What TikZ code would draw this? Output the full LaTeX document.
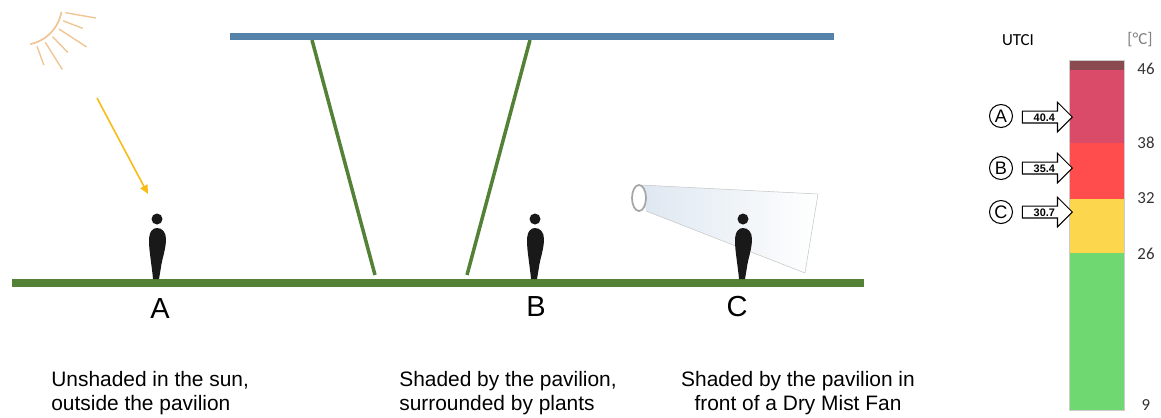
\documentclass[tikz,border=0pt]{standalone}
\usepackage{fontspec}
\setmainfont{Liberation Sans}
\newfontfamily\calibri{Carlito}
\usetikzlibrary{arrows.meta,shapes.arrows,calc}

\definecolor{roofblue}{RGB}{84,130,168}
\definecolor{plantgreen}{RGB}{83,129,53}
\definecolor{sunray}{RGB}{240,198,150}
\definecolor{sunbeam}{RGB}{247,188,22}
\definecolor{mistblue}{RGB}{222,231,241}
\definecolor{barbrown}{RGB}{139,74,80}
\definecolor{barpink}{RGB}{217,75,104}
\definecolor{barred}{RGB}{255,77,77}
\definecolor{baryellow}{RGB}{252,214,76}
\definecolor{bargreen}{RGB}{112,216,112}

\tikzset{
    person/.pic={
        \fill[black!90] (-3,0) .. controls (-4,-12) and (-7,-28) .. (-7,-38)
            .. controls (-7,-48) and (-3,-51) .. (1,-51)
            .. controls (6,-51) and (10,-47) .. (10,-40)
            .. controls (10,-30) and (6,-20) .. (5,-12)
            -- (3,0) -- cycle;
        \fill[black!90] (1,-60) circle (5.5);
    },
    spot/.style={font=\fontsize{16.5}{18}\selectfont},
    caption/.style={font=\fontsize{11.9}{13.6}\selectfont, inner sep=0pt},
    scale label/.style={font=\calibri\fontsize{9.6}{11}\selectfont, text=black!80},
    spot mark/.style={circle, draw, line width=0.6pt, minimum size=13.1pt,
        inner sep=0pt, font=\fontsize{10.3}{12}\selectfont},
    valarrow/.style={single arrow, draw, fill=white, line width=0.6pt,
        minimum height=28.4pt, single arrow head extend=5pt,
        text height=4.6pt, text depth=0pt, inner ysep=0.8pt, inner xsep=1pt,
        font=\bfseries\fontsize{6.2}{7}\selectfont}
}

\begin{document}
\begin{tikzpicture}[x=0.02cm,y=-0.02cm]
    \useasboundingbox (0,0) rectangle (1161,417);

    \coordinate (R1) at (230,36.5);
    \coordinate (R2) at (834,36.5);
    \coordinate (G1) at (12,283);
    \coordinate (G2) at (864,283);

    \coordinate (P1) at (312,40);
    \coordinate (P2) at (375,275);
    \coordinate (P3) at (530,40);
    \coordinate (P4) at (467,275);

    % pavilion: plants and roof
    \draw[plantgreen, line width=2pt] (P1) -- (P2);
    \draw[plantgreen, line width=2pt] (P3) -- (P4);
    \draw[roofblue, line width=4pt] (R1) -- (R2);
    \draw[plantgreen, line width=4pt] (G1) -- (G2);

    % sun
    \coordinate (S) at (22,5);
    \draw[sunray, line width=1pt] plot[domain=10:78, samples=25]
        ({22+40*cos(\x)},{5+40*sin(\x)});
    \foreach \a/\r in {10/75, 21/65, 33/77, 46/66, 58/76, 70/64}
        \draw[sunray, line width=0.8pt] ($(S)+(\a:44)$) -- ($(S)+(\a:\r)$);

    \coordinate (B1) at (97,98);
    \coordinate (B2) at (148,194);
    \draw[sunbeam, line width=0.9pt, -{Triangle[length=5pt,width=4.5pt]}] (B1) -- (B2);

    % dry mist fan
    \coordinate (F1) at (641,185);
    \coordinate (F2) at (818,194);
    \coordinate (F3) at (805,273);
    \coordinate (F4) at (646,211);
    \shade[left color=mistblue, right color=white] (F1) -- (F2) -- (F3) -- (F4) -- cycle;
    \draw[gray!45, line width=0.3pt] (F1) -- (F2) -- (F3) -- (F4);
    \draw[gray!70, line width=1pt, fill=white] (639,198) ellipse [x radius=7, y radius=13];

    % people
    \pic at (156,279) {person};
    \pic at (534,279) {person};
    \pic at (742,279) {person};

    \node[spot] (labA) at (160,309) {A};
    \node[spot] (labB) at (536,307) {B};
    \node[spot] (labC) at (737,307) {C};

    \node[caption, anchor=north west, align=left] (capA) at (51,371)
        {Unshaded in the sun,\\outside the pavilion};
    \node[caption, anchor=north west, align=left] (capB) at (399,371)
        {Shaded by the pavilion,\\surrounded by plants};
    \node[caption, anchor=north, align=center] (capC) at (798,371)
        {Shaded by the pavilion in\\front of a Dry Mist Fan};

    % UTCI scale
    \fill[bargreen] (1069,253) rectangle (1124,410);
    \fill[baryellow] (1069,199) rectangle (1124,253);
    \fill[barred] (1069,143) rectangle (1124,199);
    \fill[barpink] (1069,70) rectangle (1124,143);
    \fill[barbrown] (1069,60) rectangle (1124,70);
    \draw[gray!40, line width=0.3pt] (1069,60) rectangle (1124,410);

    \node[scale label, text=black] (utci) at (1018,40) {UTCI};
    \node[scale label, text=gray] (unit) at (1140,40) {[°C]};
    \node[scale label] (t46) at (1146,69) {46};
    \node[scale label] (t38) at (1146,143) {38};
    \node[scale label] (t32) at (1146,198) {32};
    \node[scale label] (t26) at (1146,254) {26};
    \node[scale label] (t9) at (1146,405) {9};

    \node[spot mark] (mA) at (1001,116) {A};
    \node[spot mark] (mB) at (1001,168) {B};
    \node[spot mark] (mC) at (1001,212) {C};
    \node[valarrow, anchor=tip] (vA) at (1073,117) {40.4};
    \node[valarrow, anchor=tip] (vB) at (1073,168) {35.4};
    \node[valarrow, anchor=tip] (vC) at (1073,212) {30.7};
\end{tikzpicture}
\end{document}
